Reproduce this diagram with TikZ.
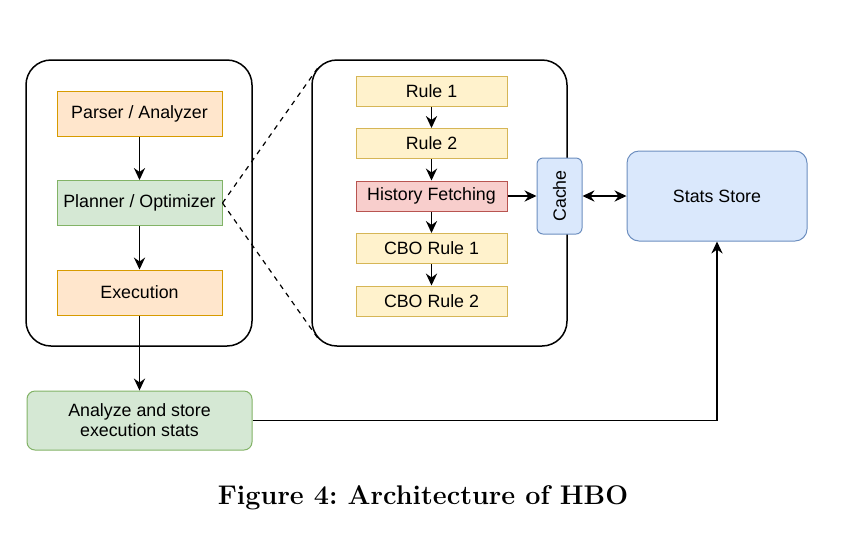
\documentclass[tikz,border=0pt]{standalone}
\usepackage{fontspec}
\setsansfont{Liberation Sans}
\usetikzlibrary{positioning, arrows.meta}

\definecolor{orangefill}{HTML}{FFE6CC}
\definecolor{orangeline}{HTML}{D79B00}
\definecolor{greenfill}{HTML}{D5E8D4}
\definecolor{greenline}{HTML}{82B366}
\definecolor{yellowfill}{HTML}{FFF2CC}
\definecolor{yellowline}{HTML}{D6B656}
\definecolor{redfill}{HTML}{F8CECC}
\definecolor{redline}{HTML}{B85450}
\definecolor{bluefill}{HTML}{DAE8FC}
\definecolor{blueline}{HTML}{6C8EBF}

\frenchspacing
\begin{document}
\begin{tikzpicture}[
  x=0.5pt, y=-0.5pt,
  >={Stealth[length=6pt,width=5.6pt,inset=2pt]},
  every node/.style={font=\sffamily\fontsize{8.9}{10}\selectfont},
  stage/.style={draw, rectangle, line width=0.5pt, minimum width=82.5pt, minimum height=22.5pt, inner sep=0pt},
  rulebox/.style={draw=yellowline, fill=yellowfill, line width=0.5pt, minimum width=75.5pt, minimum height=15pt, inner sep=0pt},
  container/.style={draw, line width=0.75pt, rounded corners=12.5pt, minimum height=143pt, inner sep=0pt},
  flow/.style={->, line width=0.7pt}
]
  \useasboundingbox (0,0) rectangle (854,548);

  % outer boxes
  \node[container, minimum width=113pt] (pipeline) at (139,203) {};
  \node[container, minimum width=127.5pt] (zoom) at (439.5,203) {};

  % query pipeline
  \node[stage, draw=orangeline, fill=orangefill] (parser) at (139.5,113.5) {Parser / Analyzer};
  \node[stage, draw=greenline, fill=greenfill, below=21.75pt of parser] (planner) {Planner / Optimizer};
  \node[stage, draw=orangeline, fill=orangefill, below=21.75pt of planner] (exec) {Execution};

  % optimizer rules
  \node[rulebox] (rule1) at (431.5,91) {Rule 1};
  \node[rulebox, below=10.75pt of rule1] (rule2) {Rule 2};
  \node[rulebox, draw=redline, fill=redfill, below=10.75pt of rule2] (history) {History Fetching};
  \node[rulebox, below=10.75pt of history] (cbo1) {CBO Rule 1};
  \node[rulebox, below=10.75pt of cbo1] (cbo2) {CBO Rule 2};

  \node[draw=blueline, fill=bluefill, line width=0.5pt, rounded corners=3pt, rotate=90,
        minimum width=38pt, minimum height=22.5pt, inner sep=0pt] (cache) at (559.5,196) {Cache};
  \node[draw=blueline, fill=bluefill, line width=0.5pt, rounded corners=6pt,
        minimum width=90pt, minimum height=45pt] (stats) at (717,196) {Stats Store};
  \node[draw=greenline, fill=greenfill, line width=0.5pt, rounded corners=4pt, align=center,
        minimum width=112.5pt, minimum height=29.5pt] (analyze) at (139.5,420.5) {Analyze and store\\execution stats};

  % zoom lines
  \coordinate (zoomtop) at ([shift={(3.7pt,-3.7pt)}]zoom.north west);
  \coordinate (zoombot) at ([shift={(3.7pt,3.7pt)}]zoom.south west);
  \draw[line width=0.6pt, dash pattern=on 2.5pt off 2.5pt] (planner.east) -- (zoomtop) (planner.east) -- (zoombot);

  % arrows
  \draw[flow] (parser) -- (planner);
  \draw[flow] (planner) -- (exec);
  \draw[flow] (exec) -- (analyze);
  \draw[flow] (rule1) -- (rule2);
  \draw[flow] (rule2) -- (history);
  \draw[flow] (history) -- (cbo1);
  \draw[flow] (cbo1) -- (cbo2);
  \draw[flow] (history) -- (cache);
  \draw[<->, line width=0.7pt] (cache) -- (stats);
  \draw[flow] (analyze) -| (stats);

  \node[font=\fontsize{13.5}{16}\selectfont\bfseries, anchor=base] (caption) at (423,504) {Figure 4: Architecture of HBO};
\end{tikzpicture}
\end{document}
